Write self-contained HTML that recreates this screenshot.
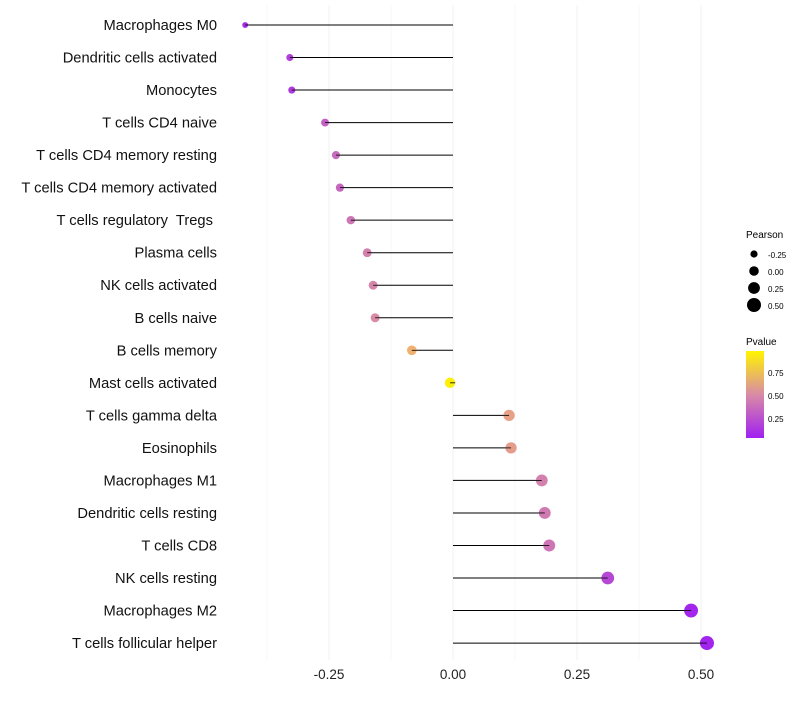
<!DOCTYPE html>
<html><head><meta charset="utf-8"><style>
body{margin:0;background:#fff;font-family:"Liberation Sans",sans-serif}
svg text{font-family:"Liberation Sans",sans-serif;white-space:pre}
</style></head><body>
<svg id="chart" width="800" height="700">
<defs><linearGradient id="pg" x1="0" y1="1" x2="0" y2="0">
<stop offset="0" stop-color="#A020F0"/><stop offset="0.5" stop-color="#D98BA6"/><stop offset="1" stop-color="#FFF500"/></linearGradient></defs>
<g id="grid"></g><g id="marks"></g><g id="labels"></g><g id="xticks"></g>
<g>
<text x="746" y="238" font-size="10">Pearson</text>
<circle cx="754" cy="254" r="3.6"/><text x="768" y="258" font-size="8">-0.25</text>
<circle cx="754" cy="271" r="4.8"/><text x="768" y="275" font-size="8">0.00</text>
<circle cx="754" cy="288" r="5.9"/><text x="768" y="292" font-size="8">0.25</text>
<circle cx="754" cy="305" r="7"/><text x="768" y="309" font-size="8">0.50</text>
</g>
<g>
<text x="746" y="345" font-size="10">Pvalue</text>
<rect x="746" y="351" width="18" height="87" fill="url(#pg)"/>
<text x="768" y="376" font-size="8">0.75</text>
<text x="768" y="399" font-size="8">0.50</text>
<text x="768" y="422" font-size="8">0.25</text>
</g>
</svg>
<script>
const categories=["Macrophages M0","Dendritic cells activated","Monocytes","T cells CD4 naive","T cells CD4 memory resting","T cells CD4 memory activated","T cells regulatory  Tregs ","Plasma cells","NK cells activated","B cells naive","B cells memory","Mast cells activated","T cells gamma delta","Eosinophils","Macrophages M1","Dendritic cells resting","T cells CD8","NK cells resting","Macrophages M2","T cells follicular helper"];
const pearson=[-0.419,-0.329,-0.325,-0.258,-0.236,-0.228,-0.206,-0.173,-0.161,-0.157,-0.083,-0.006,0.113,0.117,0.179,0.185,0.194,0.312,0.480,0.512];
const pvalue=[0.05,0.15,0.12,0.30,0.35,0.33,0.40,0.45,0.47,0.50,0.75,0.98,0.65,0.62,0.45,0.42,0.40,0.18,0.03,0.02];
const xTicks=[-0.25,0,0.25,0.5];
const xTickLabels=["-0.25","0.00","0.25","0.50"];
const NS="http://www.w3.org/2000/svg";
const xs=v=>453+v*496;
const ys=i=>25+i*32.53;
const rs=v=>Math.sqrt(Math.max(4,27+44*v));
function col(p){
 const stops=[[0,[160,32,240]],[0.5,[217,139,166]],[0.75,[240,176,112]],[1,[255,245,0]]];
 for(let k=1;k<stops.length;k++){if(p<=stops[k][0]){const a=stops[k-1],b=stops[k],t=(p-a[0])/(b[0]-a[0]);
 return "rgb("+a[1].map((c,j)=>Math.round(c+(b[1][j]-c)*t)).join(",")+")";}}
 return "rgb(255,245,0)";}
function mk(t,a,parent){const e=document.createElementNS(NS,t);for(const k in a)e.setAttribute(k,a[k]);parent.appendChild(e);return e;}
const grid=document.getElementById("grid"),marks=document.getElementById("marks"),labels=document.getElementById("labels"),xt=document.getElementById("xticks");
[-0.375,-0.125,0.125,0.375].forEach(v=>{const l=mk("line",{x1:xs(v),x2:xs(v),y1:5,y2:660,stroke:"#f7f7f7","stroke-width":1},grid);

});
xTicks.forEach((v,i)=>{const l=mk("line",{x1:xs(v),x2:xs(v),y1:5,y2:660,stroke:"#f0f0f0","stroke-width":1},grid);


const t=mk("text",{x:xs(v),y:679,"text-anchor":"middle","font-size":"13.5",fill:"#222"},xt);t.textContent=xTickLabels[i];

});
categories.forEach((c,i)=>{const y=ys(i);
const t=mk("text",{x:217,y:y+5,"text-anchor":"end","font-size":"14.7",fill:"#111"},labels);t.textContent=c;


const l=mk("line",{x1:xs(0),x2:xs(pearson[i]),y1:y,y2:y,stroke:"#000","stroke-width":1},marks);


const d=mk("circle",{cx:xs(pearson[i]),cy:y,r:rs(pearson[i]),fill:col(pvalue[i])},marks);


const sgn=pearson[i]<0?1:-1;
const l2=mk("line",{x1:xs(pearson[i]),x2:xs(pearson[i])+sgn*rs(pearson[i]),y1:y,y2:y,stroke:"#000","stroke-width":0.8},marks);

});
</script>
</body></html>
